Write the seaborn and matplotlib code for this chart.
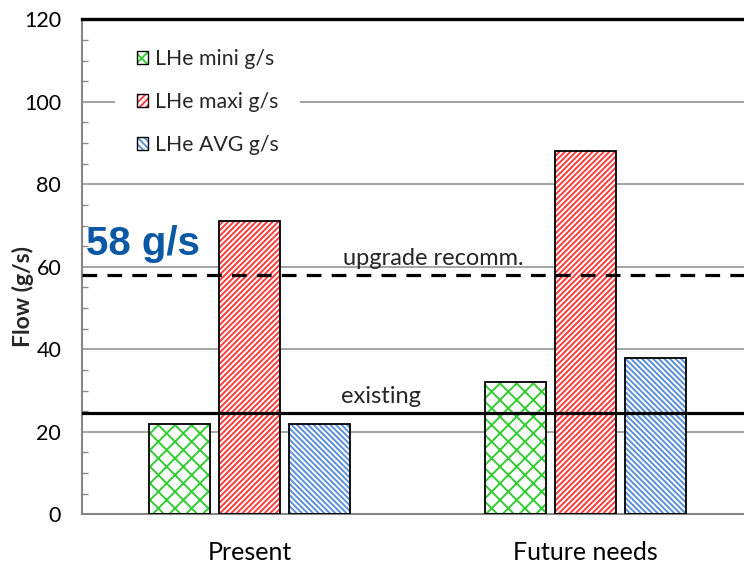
import numpy as np
import pandas as pd
import matplotlib
matplotlib.use("Agg")
import matplotlib.pyplot as plt
import seaborn as sns
from matplotlib.patches import Patch
from matplotlib.legend_handler import HandlerTuple
from matplotlib.ticker import MultipleLocator
from matplotlib.colors import to_rgba

# ---- data ----
categories = ["Present", "Future needs"]
series_names = ["LHe mini g/s", "LHe maxi g/s", "LHe AVG g/s"]
lhe_mini = [22, 32]
lhe_maxi = [71, 88]
lhe_avg = [22, 38]
existing_level = 24.6
upgrade_level = 58
y_ticks = [0, 20, 40, 60, 80, 100, 120]
big_label = "58 g/s"
upgrade_label = "upgrade recomm."
existing_label = "existing"

# ---- styles ----
hatch_colors = ["#33cc33", "#ff3b3b", "#5b8fd8"]
hatches = ["xx", "//////", "\\\\\\\\\\\\"]

sns.set_style("white")
plt.rcParams["font.family"] = ["Lato", "DejaVu Sans"]
plt.rcParams["hatch.linewidth"] = 1.4

df = pd.DataFrame({
    "category": categories * 3,
    "series": np.repeat(series_names, len(categories)),
    "flow": lhe_mini + lhe_maxi + lhe_avg,
})

fig = plt.figure(figsize=(7.44, 5.69), dpi=100)
ax = fig.add_axes([82 / 744, 54.7 / 569, 671 / 744, 495 / 569])

# hatched fill pass
sns.barplot(data=df, x="category", y="flow", hue="series", order=categories,
            hue_order=series_names, palette=hatch_colors, width=0.625, gap=0.13,
            errorbar=None, legend=False, ax=ax, zorder=2)
rgba = [to_rgba(c) for c in hatch_colors]
for p in ax.patches:
    fc = p.get_facecolor()
    idx = int(np.argmin([np.sum((np.array(fc) - np.array(c)) ** 2) for c in rgba]))
    p.set_facecolor("white")
    p.set_edgecolor(hatch_colors[idx])
    p.set_hatch(hatches[idx])
    p.set_linewidth(0)

# outline pass
sns.barplot(data=df, x="category", y="flow", hue="series", order=categories,
            hue_order=series_names, palette=["black"] * 3, width=0.625, gap=0.13,
            fill=False, linewidth=1.3, errorbar=None, legend=False, ax=ax, zorder=3)

ax.set_xlim(-0.5, 1.5)
ax.set_ylim(0, 120)
ax.set_yticks(y_ticks)
ax.yaxis.set_minor_locator(MultipleLocator(5))
ax.yaxis.grid(True, which="major", color="#8c8c8c", lw=1.1)
ax.xaxis.grid(False)
ax.set_axisbelow(True)

ax.tick_params(axis="y", which="major", length=0, pad=15, labelsize=15.5, labelcolor="black")
ax.tick_params(axis="y", which="minor", direction="in", length=4, width=1, color="#8c8c8c", left=True)
ax.tick_params(axis="x", length=0, pad=19, labelsize=18, labelcolor="black")
ax.set_xlabel("")
ax.set_ylabel("Flow (g/s)", fontsize=16.5, fontweight="bold")
ax.yaxis.set_label_coords(-0.072, 0.44)

for s in ["left", "bottom"]:
    ax.spines[s].set_color("#868686")
    ax.spines[s].set_linewidth(1.5)
ax.spines["right"].set_visible(False)
ax.spines["top"].set_color("black")
ax.spines["top"].set_linewidth(2.4)
ax.spines["top"].set_zorder(6)

ax.axhline(upgrade_level, color="black", lw=2.3, ls=(0, (4.6, 3.2)), zorder=4)
ax.axhline(existing_level, color="black", lw=2.3, zorder=4)

ax.text(-0.488, 62.9, big_label, fontsize=29, fontweight="bold", color="#0b58a4",
        family=["Liberation Sans", "DejaVu Sans"], va="baseline", ha="left", zorder=5)
ax.text(0.278, 60.4, upgrade_label, fontsize=17, va="baseline", ha="left", zorder=5)
ax.text(0.272, 27.0, existing_label, fontsize=17, va="baseline", ha="left", zorder=5)

handles = [(Patch(facecolor="white", edgecolor=c, hatch=h, lw=0),
            Patch(facecolor="none", edgecolor="black", lw=1.0))
           for c, h in zip(hatch_colors, ["xx", "/////", "\\\\\\\\\\"])]
ax.legend(handles, series_names, handler_map={tuple: HandlerTuple(ndivide=1, pad=0)},
          loc="upper left", bbox_to_anchor=(0.034, 1.004), frameon=True,
          facecolor="white", edgecolor="none", framealpha=1, fancybox=False,
          handlelength=0.52, handleheight=0.52, handletextpad=0.35,
          labelspacing=1.08, borderpad=1.0, fontsize=15.3)

fig.savefig("out.png", dpi=100)
